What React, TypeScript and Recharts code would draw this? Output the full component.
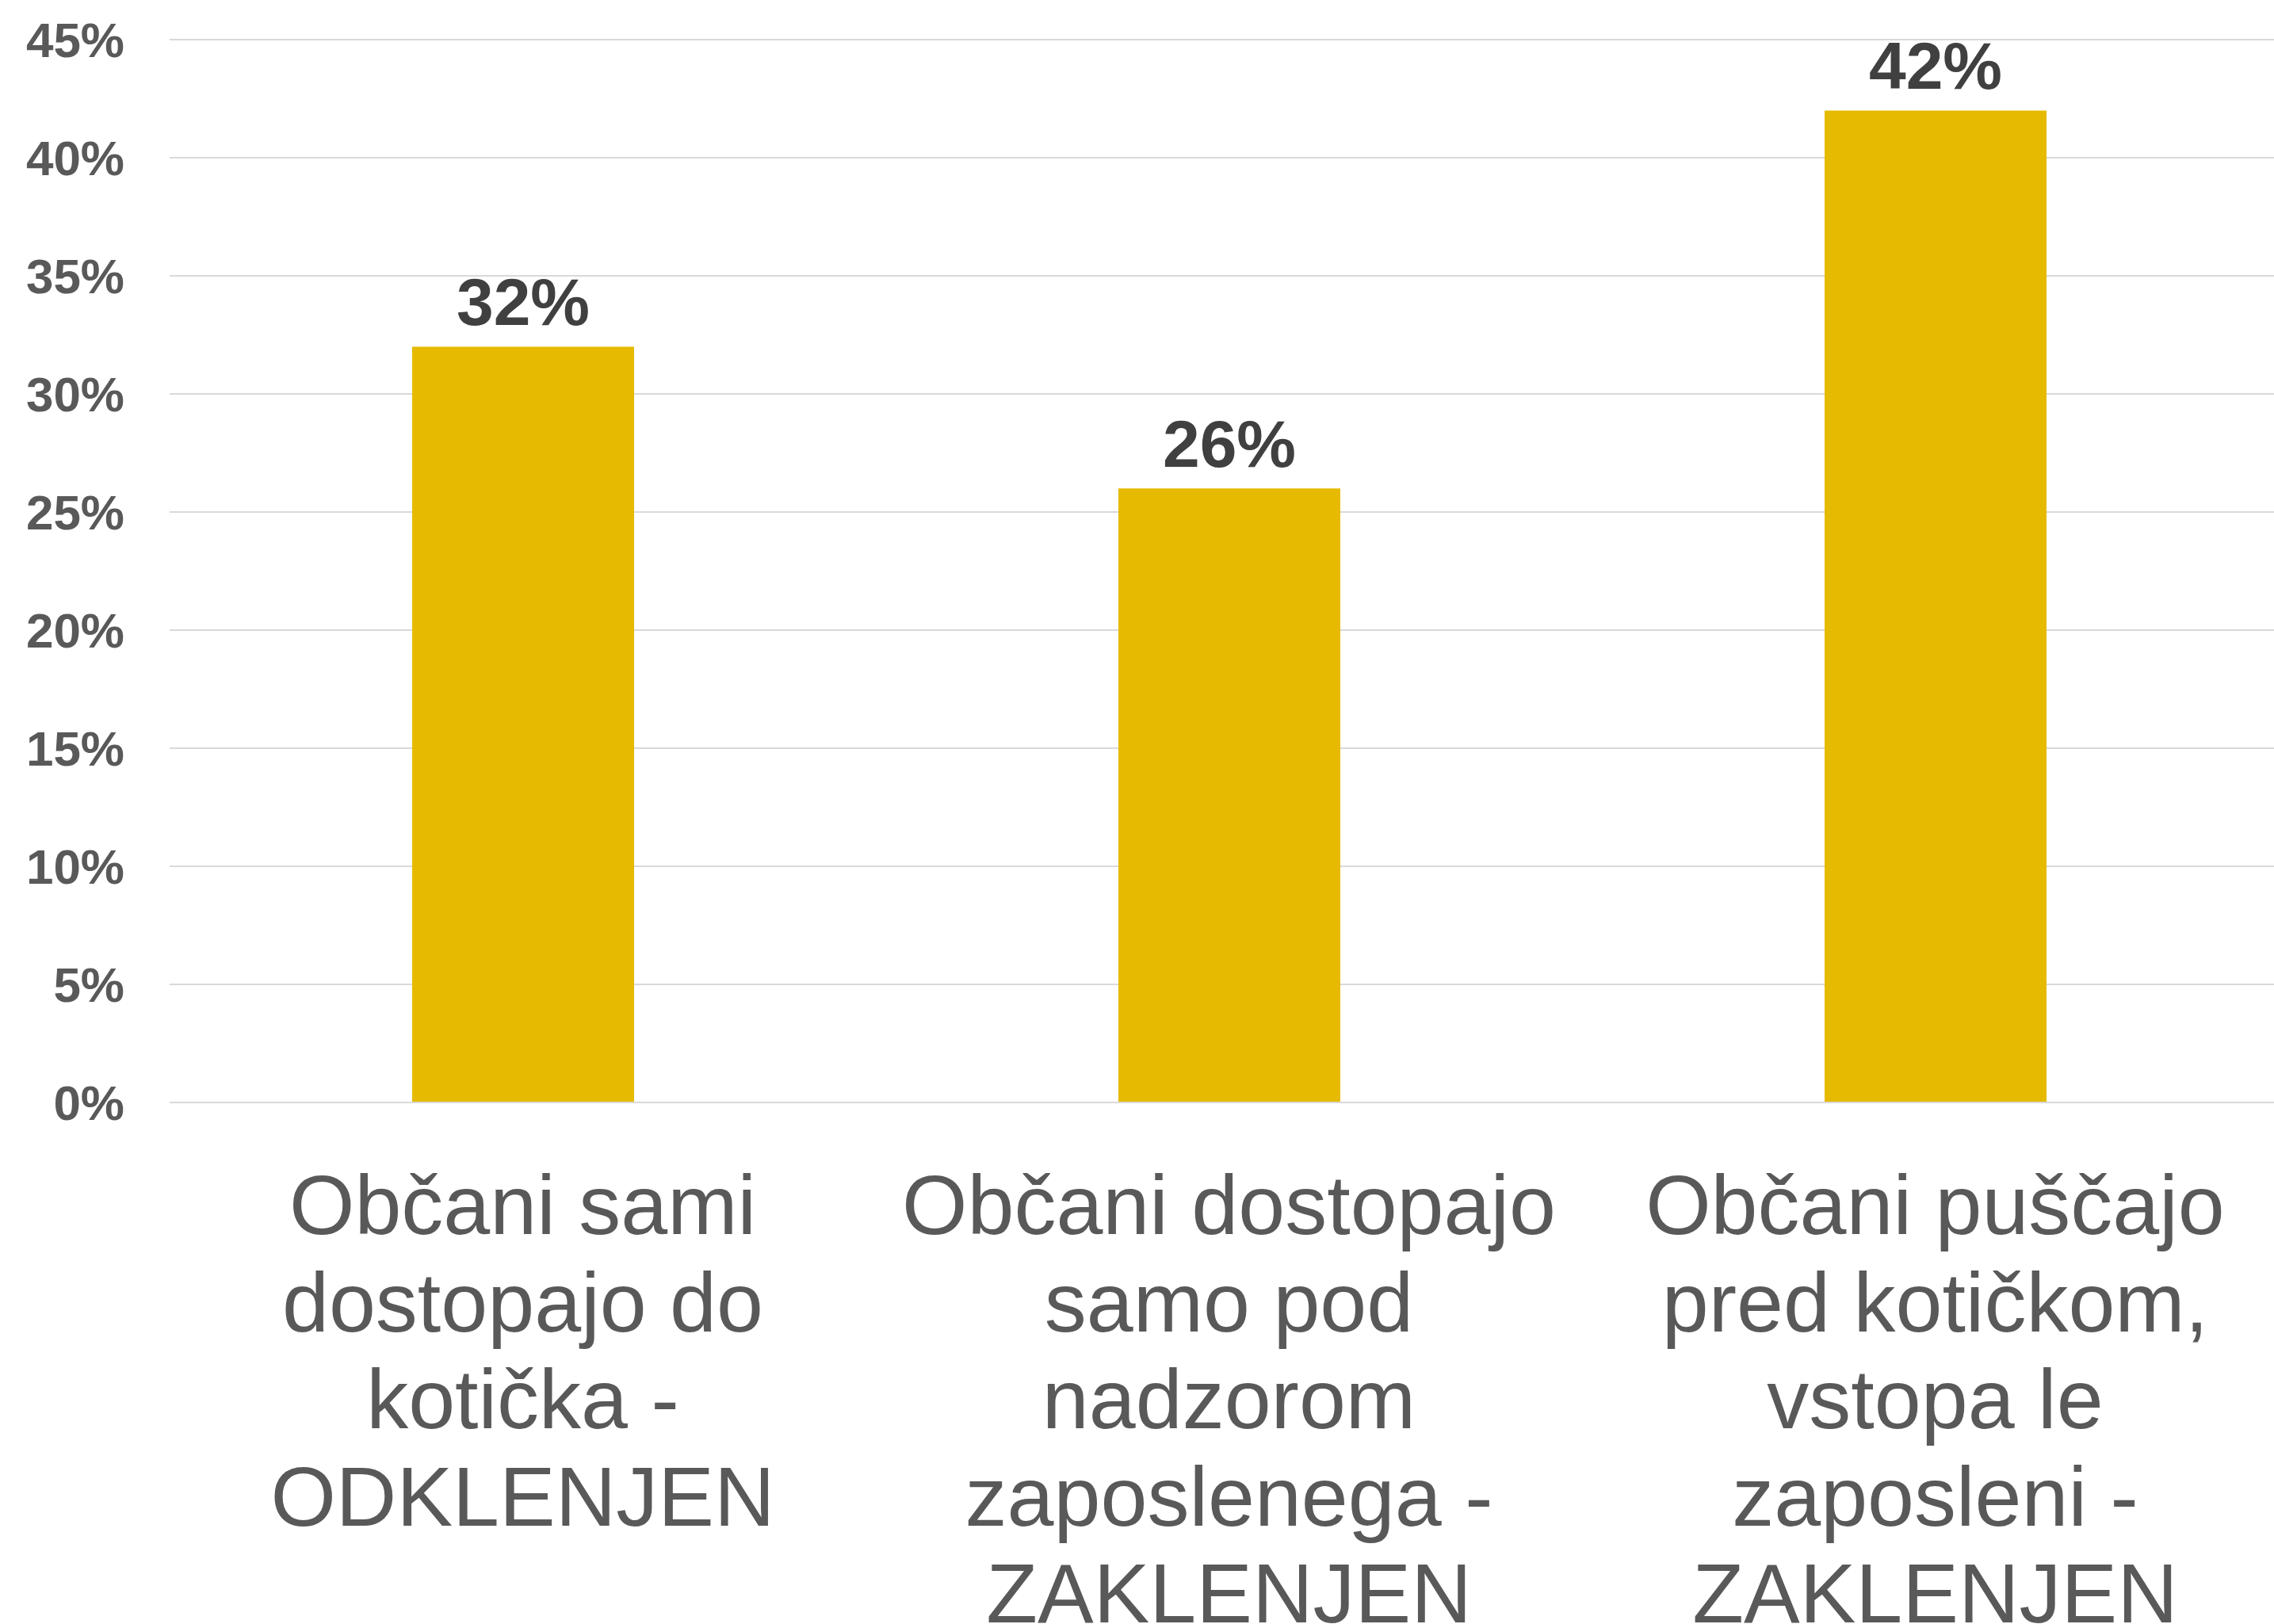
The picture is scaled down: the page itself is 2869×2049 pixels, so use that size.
import React from "react";
import {
  BarChart,
  Bar,
  XAxis,
  YAxis,
  CartesianGrid,
  LabelList,
} from "recharts";

const categories = [
  "Občani sami\ndostopajo do\nkotička -\nODKLENJEN",
  "Občani dostopajo\nsamo pod\nnadzorom\nzaposlenega -\nZAKLENJEN",
  "Občani puščajo\npred kotičkom,\nvstopa le\nzaposleni -\nZAKLENJEN",
];
const shares = [32, 26, 42];
const yTicks = [0, 5, 10, 15, 20, 25, 30, 35, 40, 45];

const FONT = '"Liberation Sans", Arial, sans-serif';

const data = categories.map((name, i) => ({ name, value: shares[i] }));

function CategoryTick(props: any) {
  const { x, y, payload } = props;
  const lines = String(payload.value).split("\n");
  return (
    <text
      x={x}
      y={y}
      textAnchor="middle"
      fill="#595959"
      fontSize={106}
      fontFamily={FONT}
    >
      {lines.map((line, i) => (
        <tspan key={i} x={x} dy={i === 0 ? 166 : 122.6}>
          {line}
        </tspan>
      ))}
    </text>
  );
}

export default function App() {
  return (
    <div
      style={{
        position: "fixed",
        left: 0,
        top: 0,
        width: 2869,
        height: 2049,
        overflow: "hidden",
        background: "#fff",
      }}
    >
      <BarChart
        width={2890}
        height={2150}
        data={data}
        margin={{ top: 50, right: 3, bottom: 0, left: 0 }}
      >
        <CartesianGrid
          vertical={false}
          stroke="#D9D9D9"
          strokeWidth={2}
        />
        <XAxis
          dataKey="name"
          axisLine={{ stroke: "#D9D9D9", strokeWidth: 2 }}
          tickLine={false}
          tickSize={0}
          tickMargin={0}
          height={759}
          interval={0}
          tick={<CategoryTick />}
        />
        <YAxis
          domain={[0, 45]}
          ticks={yTicks}
          tickFormatter={(v: number) => `${v}%`}
          axisLine={false}
          tickLine={false}
          tickSize={0}
          tickMargin={57}
          width={214}
          tick={{
            fill: "#595959",
            fontSize: 62,
            fontWeight: 700,
            fontFamily: FONT,
          }}
        />
        <Bar
          dataKey="value"
          fill="#E5BA00"
          barSize={280}
          isAnimationActive={false}
        >
          <LabelList
            dataKey="value"
            position="top"
            offset={27}
            formatter={(v: any) => `${v}%`}
            fill="#404040"
            fontSize={84}
            fontWeight={700}
            fontFamily={FONT}
          />
        </Bar>
      </BarChart>
    </div>
  );
}
